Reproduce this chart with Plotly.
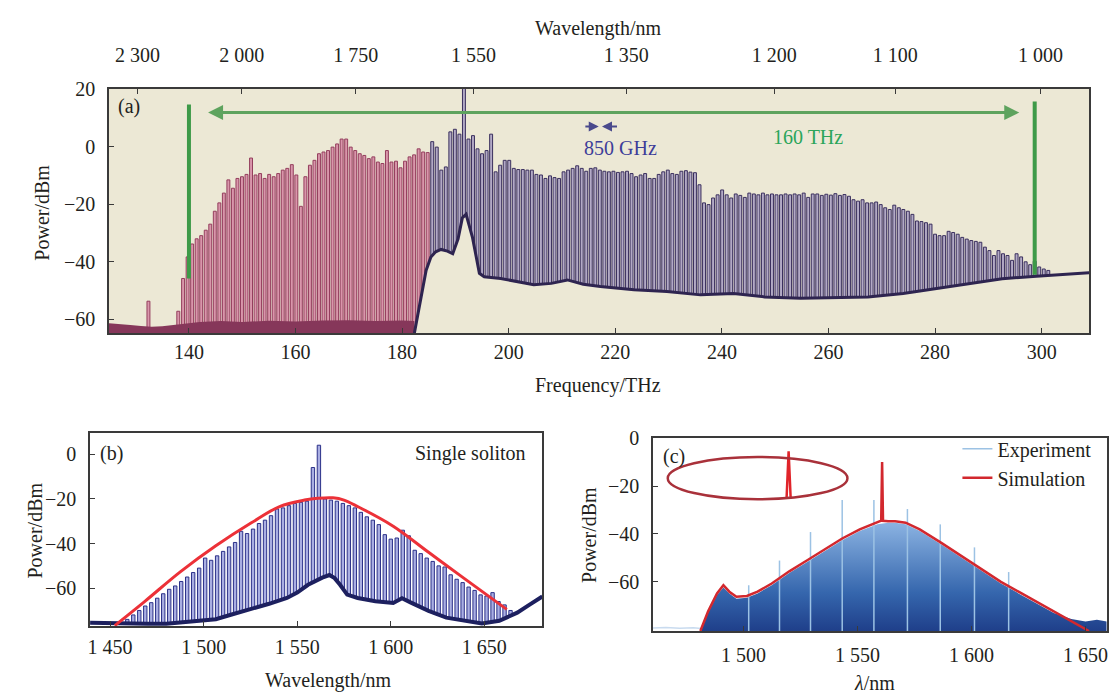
import numpy as np
import plotly.graph_objects as go

C_NM_THZ = 299792.458
FONT = "Liberation Serif"
INK = "#231f20"
FRAME = "#3a3a3a"

# ---------------- Panel (a) ----------------
A_X_RANGE = [125.0, 308.9]
A_Y_RANGE = [-64.8, 20.1]
A_X_TICKS = [140, 160, 180, 200, 220, 240, 260, 280, 300]
A_Y_TICKS = [-60, -40, -20, 0, 20]
A_Y_TICKTEXT = ["−60", "−40", "−20", "0", "20"]
A_WL_TICKS_NM = [2300, 2000, 1750, 1550, 1350, 1200, 1100, 1000]
A_WL_TICKTEXT = ["2 300", "2 000", "1 750", "1 550", "1 350", "1 200", "1 100", "1 000"]

A_COMB_START_THZ = 138.9
A_COMB_SPACING_THZ = 0.85
A_RED_PEAKS_DBM = [
    -45.8, -38.3, -33.8, -32.0, -30.9, -29.0, -26.9, -22.4, -19.5, -16.1,
    -11.5, -14.4, -11.0, -10.4, -9.6, -3.9, -9.8, -9.3, -11.0, -9.6,
    -10.4, -9.3, -8.1, -7.5, -6.2, -9.8, -20.7, -10.4, -6.4, -4.7,
    -2.4, -1.8, -1.3, -0.1, 1.0, 2.7, 2.7, -0.1, -1.3, -2.4,
    -3.0, -4.1, -3.5, -5.3, -5.8, -1.3, -5.3, -5.0, -7.3, -5.0,
    -3.5, -2.8, -0.7, -1.8, -2.0]
A_PURPLE_PEAKS_DBM = [
    1.8, -0.1, -8.1, -7.0, 5.2, 6.1, 4.4, 20.5,
    2.7, 3.9, -0.7, -2.4, -1.3, 4.4, -8.7, -6.4, -4.7, -4.7,
    -7.5, -7.9, -7.9, -8.1, -8.1, -9.6, -9.8, -11.0, -10.1, -10.7,
    -11.0, -8.7, -8.1, -7.5, -6.6, -7.5, -8.5, -7.5, -7.3, -8.1,
    -8.5, -8.7, -8.5, -8.9, -8.7, -8.5, -9.3, -10.4, -9.8, -9.3,
    -11.0, -11.0, -9.6, -8.7, -8.1, -9.3, -9.6, -8.5, -8.3, -8.8,
    -9.0, -13.2,
    -19.5, -20.1, -17.8, -16.7, -15.0, -16.7, -17.8, -16.4, -16.9, -17.6,
    -16.1, -16.4, -16.7, -16.1, -16.7, -16.4, -16.7, -16.7, -16.4, -16.7,
    -16.4, -16.7, -16.1, -17.6, -16.4, -16.4, -16.9, -16.5, -16.8, -16.3,
    -16.9, -16.6, -17.2, -18.4, -18.9, -18.4, -19.5, -19.5, -19.2, -20.1,
    -21.2, -21.8, -20.3, -21.2, -21.8, -22.4, -23.5, -25.8, -26.0, -26.4,
    -26.9, -30.4, -30.9, -30.9, -29.4, -29.8, -30.4, -31.5, -32.1, -32.6,
    -32.9, -33.2, -34.9, -36.1, -37.8, -36.1, -37.2, -37.8, -39.5, -37.2,
    -38.3, -40.0, -41.0, -39.8, -41.8, -42.5, -43.0]
A_STRAY_THZ = [132.4, 138.0]
A_STRAY_DBM = [-53.7, -57.2]
A_RED_FLOOR_THZ = [125.0, 127.0, 129.0, 131.0, 133.0, 135.0, 137.0, 139.0, 142.0,
                   146.0, 150.0, 155.0, 160.0, 165.0, 170.0, 175.0, 180.0, 182.3]
A_RED_FLOOR_DBM = [-61.4, -61.8, -62.0, -62.3, -62.6, -62.4, -62.0, -61.4, -60.9,
                   -60.6, -60.9, -60.5, -60.8, -60.4, -60.3, -60.6, -60.4, -60.6]
A_PURPLE_FLOOR_THZ = [182.3, 183.0, 183.6, 184.5, 185.4, 186.3, 187.3, 188.5, 189.5,
                      190.5, 191.3, 192.0, 193.2, 194.5, 195.4, 198.5, 204.7, 208.0,
                      211.0, 214.0, 217.2, 223.5, 229.7, 236.0, 242.2, 248.0, 254.8,
                      261.0, 267.4, 274.0, 280.0, 286.3, 292.6, 299.0, 305.2, 308.9]
A_PURPLE_FLOOR_DBM = [-64.8, -58.0, -50.9, -43.0, -38.3, -36.5, -35.7, -36.3, -37.2,
                      -32.0, -24.7, -23.5, -31.5, -44.0, -45.2, -45.8, -48.0, -47.5,
                      -46.3, -47.8, -48.6, -49.7, -50.3, -51.5, -51.0, -52.2, -52.7,
                      -52.5, -52.2, -51.0, -49.3, -47.6, -45.9, -45.0, -44.2, -43.8]
A_SPAN_MARK_THZ = [140.0, 298.7]
A_SPAN_MARK_LOW = [-45.8, -44.5]
A_SPAN_MARK_HIGH = [14.7, 15.8]
A_SPAN_ARROW_THZ = [143.3, 295.8]
A_SPAN_ARROW_DBM = 11.9
A_FSR_ARROW_THZ = [214.1, 216.9, 217.5, 220.6]
A_FSR_ARROW_DBM = 7.1

# ---------------- Panel (b) ----------------
B_X_RANGE = [1439.3, 1681.0]
B_Y_RANGE = [-77.0, 9.5]
B_X_TICKS = [1450, 1500, 1550, 1600, 1650]
B_X_TICKTEXT = ["1 450", "1 500", "1 550", "1 600", "1 650"]
B_Y_TICKS = [-60, -40, -20, 0]
B_Y_TICKTEXT = ["−60", "−40", "−20", "0"]
B_COMB_START_NM = 1456.0
B_COMB_SPACING_NM = 3.2
B_COMB_PEAKS_DBM = [
    -76.0, -74.0, -72.0, -70.0, -68.0, -66.5, -64.5, -62.5, -60.5, -59.0,
    -57.0, -55.0, -53.0, -51.0, -46.5, -47.5, -45.5, -43.5, -41.5, -39.5,
    -34.5, -35.5, -33.5, -31.0, -29.5, -27.5, -24.5, -24.0, -23.0, -22.0,
    -21.5, -21.0, -5.9, 4.1, -20.0, -20.5, -21.0, -22.0, -23.0, -24.0,
    -26.0, -28.0, -29.5, -31.5, -36.0, -38.0, -37.5, -34.0, -36.5, -43.0,
    -44.5, -46.5, -48.0, -50.0, -50.5, -54.0, -56.0, -57.5, -59.5, -61.0,
    -63.0, -63.5, -62.0, -66.0, -67.5, -70.0]
B_FLOOR_NM = [1439.3, 1450.0, 1460.0, 1470.0, 1480.0, 1487.5, 1495.0, 1506.5, 1515.0,
              1525.5, 1535.0, 1544.5, 1550.0, 1555.8, 1560.0, 1563.4, 1567.2, 1570.0,
              1572.9, 1576.7, 1582.3, 1591.8, 1601.3, 1606.0, 1610.8, 1620.2, 1629.7,
              1639.2, 1648.7, 1658.0, 1667.6, 1674.0, 1681.0]
B_FLOOR_DBM = [-75.5, -75.8, -75.8, -76.0, -76.0, -75.4, -74.8, -73.9, -71.8,
               -69.5, -67.0, -64.4, -62.0, -58.5, -56.5, -55.3, -54.1, -55.5,
               -58.5, -62.9, -64.4, -65.9, -66.6, -64.5, -66.5, -70.2, -73.2,
               -74.6, -75.8, -74.6, -71.0, -67.5, -63.7]
B_ENV_NM = [1452.5, 1468.6, 1487.5, 1506.5, 1525.5, 1540.6, 1553.9, 1561.0, 1569.1,
            1575.0, 1582.3, 1601.3, 1620.2, 1639.2, 1662.0]
B_ENV_DBM = [-76.8, -65.9, -52.7, -41.0, -30.7, -23.4, -20.5, -19.7, -19.5,
             -20.5, -23.4, -32.2, -43.9, -55.6, -69.5]

# ---------------- Panel (c) ----------------
C_X_RANGE = [1460.3, 1659.3]
C_Y_RANGE = [-80.5, 0.0]
C_X_TICKS = [1500, 1550, 1600, 1650]
C_X_TICKTEXT = ["1 500", "1 550", "1 600", "1 650"]
C_Y_TICKS = [-60, -40, -20, 0]
C_Y_TICKTEXT = ["−60", "−40", "−20", "0"]
C_SIM_NM = [1481.1, 1484.5, 1488.4, 1491.2, 1493.8, 1496.9, 1501.5, 1506.2, 1512.4,
            1520.1, 1527.8, 1535.6, 1543.3, 1551.0, 1558.8, 1560.4, 1560.8, 1561.2,
            1563.4, 1566.5, 1571.1, 1577.3, 1586.6, 1597.4, 1605.1, 1612.9, 1620.6,
            1628.3, 1636.1, 1643.8, 1650.0, 1651.5]
C_SIM_DBM = [-80.5, -72.3, -64.8, -61.4, -64.1, -66.2, -65.9, -64.1, -60.7,
             -55.6, -51.1, -46.3, -41.9, -38.1, -35.3, -34.4, -10.0, -34.5,
             -34.7, -34.7, -35.3, -38.1, -43.6, -50.4, -55.2, -60.0, -64.1,
             -68.2, -72.3, -76.4, -79.9, -80.5]
C_EXP_NM = [1481.5, 1484.5, 1488.4, 1491.2, 1493.8, 1496.9,
            1501.5, 1506.2, 1512.4, 1520.1, 1527.8, 1535.6, 1543.3, 1551.0, 1558.8,
            1563.4, 1566.5, 1571.1, 1577.3, 1586.6, 1597.4, 1605.1, 1612.9, 1620.6,
            1628.3, 1636.1, 1643.8, 1650.0, 1655.0, 1659.3]
C_EXP_DBM = [-79.5, -73.0, -65.5, -62.3, -64.8, -67.0,
             -66.6, -64.8, -61.4, -56.3, -51.8, -47.0, -42.6, -38.8, -36.0,
             -35.3, -35.3, -36.0, -38.8, -44.3, -51.1, -55.9, -60.7, -64.8,
             -68.9, -73.0, -75.5, -76.5, -75.8, -76.5]
C_EXP_NOISE_NM = [1460.3, 1466.0, 1472.0, 1478.0, 1481.5]
C_EXP_NOISE_DBM = [-79.3, -79.0, -79.4, -79.1, -79.5]
C_EXP_LINE_NM = [1502.3, 1515.8, 1529.4, 1543.3, 1557.2, 1571.9, 1586.3, 1601.3, 1616.3]
C_EXP_LINE_DBM = [-61.4, -51.1, -39.2, -25.8, -25.8, -29.6, -36.0, -45.6, -55.9]
C_RING = dict(x0=1466.8, x1=1545.6, y0=-25.5, y1=-7.9)
C_RING_PULSE_NM = [1518.9, 1519.8, 1520.7]
C_RING_PULSE_DBM = [-25.2, -5.5, -25.2]

W, H = 1113, 693


def px_x(p):
    return p / W


def px_y(p):
    return 1 - p / H


fig = go.Figure()

# ---- (a) comb teeth ----
n_red = len(A_RED_PEAKS_DBM)
n_all = n_red + len(A_PURPLE_PEAKS_DBM)
comb_f = A_COMB_START_THZ + A_COMB_SPACING_THZ * np.arange(n_all)
a_base = A_Y_RANGE[0]
red_f = np.concatenate([A_STRAY_THZ, comb_f[:n_red]])
red_p = np.concatenate([A_STRAY_DBM, A_RED_PEAKS_DBM])
fig.add_trace(go.Bar(x=red_f, y=red_p - a_base, base=a_base, width=0.55,
                     marker=dict(color="#d996ab", line=dict(color="#943e5d", width=1)),
                     xaxis="x", yaxis="y", showlegend=False, hoverinfo="skip"))
fig.add_trace(go.Bar(x=comb_f[n_red:], y=np.array(A_PURPLE_PEAKS_DBM) - a_base, base=a_base,
                     width=0.55,
                     marker=dict(color="#b3aac6", line=dict(color="#3b305e", width=1)),
                     xaxis="x", yaxis="y", showlegend=False, hoverinfo="skip"))
# red noise floor (filled from the bottom)
fig.add_trace(go.Scatter(x=A_RED_FLOOR_THZ + [A_RED_FLOOR_THZ[-1], A_RED_FLOOR_THZ[0]],
                         y=A_RED_FLOOR_DBM + [a_base, a_base], fill="toself",
                         fillcolor="#86375a", line=dict(width=0), mode="lines",
                         xaxis="x", yaxis="y", showlegend=False, hoverinfo="skip"))
# purple noise floor: background below, line on top
fig.add_trace(go.Scatter(x=A_PURPLE_FLOOR_THZ + [A_PURPLE_FLOOR_THZ[-1], A_PURPLE_FLOOR_THZ[0]],
                         y=A_PURPLE_FLOOR_DBM + [a_base, a_base], fill="toself",
                         fillcolor="#ece8d5", line=dict(width=0), mode="lines",
                         xaxis="x", yaxis="y", showlegend=False, hoverinfo="skip"))
fig.add_trace(go.Scatter(x=A_PURPLE_FLOOR_THZ, y=A_PURPLE_FLOOR_DBM, mode="lines",
                         line=dict(color="#2e2450", width=3),
                         xaxis="x", yaxis="y", showlegend=False, hoverinfo="skip"))
# green span markers
gx, gy = [], []
for f, lo, hi in zip(A_SPAN_MARK_THZ, A_SPAN_MARK_LOW, A_SPAN_MARK_HIGH):
    gx += [f, f, None]
    gy += [lo, hi, None]
fig.add_trace(go.Scatter(x=gx, y=gy, mode="lines", line=dict(color="#3e9a48", width=4),
                         xaxis="x", yaxis="y", showlegend=False, hoverinfo="skip"))
# invisible trace for the top wavelength axis
wl_tickvals = [C_NM_THZ / w for w in A_WL_TICKS_NM]
fig.add_trace(go.Scatter(x=wl_tickvals, y=[a_base] * len(wl_tickvals), mode="markers",
                         marker=dict(opacity=0), xaxis="x4", yaxis="y",
                         showlegend=False, hoverinfo="skip"))

# ---- (b) ----
b_base = B_Y_RANGE[0]
b_comb = B_COMB_START_NM + B_COMB_SPACING_NM * np.arange(len(B_COMB_PEAKS_DBM))
fig.add_trace(go.Bar(x=b_comb, y=np.array(B_COMB_PEAKS_DBM) - b_base, base=b_base, width=1.8,
                     marker=dict(color="#a9aee2", line=dict(color="#2b3088", width=1)),
                     xaxis="x2", yaxis="y2", showlegend=False, hoverinfo="skip"))
fig.add_trace(go.Scatter(x=B_FLOOR_NM + [B_FLOOR_NM[-1], B_FLOOR_NM[0]],
                         y=B_FLOOR_DBM + [b_base, b_base], fill="toself",
                         fillcolor="white", line=dict(width=0), mode="lines",
                         xaxis="x2", yaxis="y2", showlegend=False, hoverinfo="skip"))
fig.add_trace(go.Scatter(x=B_FLOOR_NM, y=B_FLOOR_DBM, mode="lines",
                         line=dict(color="#1d205f", width=4),
                         xaxis="x2", yaxis="y2", showlegend=False, hoverinfo="skip"))
fig.add_trace(go.Scatter(x=B_ENV_NM, y=B_ENV_DBM, mode="lines", line_shape="spline",
                         line=dict(color="#ec3138", width=3),
                         xaxis="x2", yaxis="y2", showlegend=False, hoverinfo="skip"))

# ---- (c) ----
c_base = C_Y_RANGE[0]
fig.add_trace(go.Scatter(x=C_EXP_NOISE_NM, y=C_EXP_NOISE_DBM, mode="lines",
                         line=dict(color="#c9dbef", width=1.5),
                         xaxis="x3", yaxis="y3", showlegend=False, hoverinfo="skip"))
fig.add_trace(go.Scatter(x=C_EXP_NM + [C_EXP_NM[-1], C_EXP_NM[0]],
                         y=C_EXP_DBM + [c_base, c_base], fill="toself", mode="lines",
                         line=dict(width=0),
                         fillgradient=dict(type="vertical",
                                           colorscale=[[0, "#1f3f8a"], [0.35, "#3566ad"], [1, "#8bb3e2"]]),
                         xaxis="x3", yaxis="y3", showlegend=False, hoverinfo="skip"))
ex, ey = [], []
for w, p in zip(C_EXP_LINE_NM, C_EXP_LINE_DBM):
    ex += [w, w, None]
    ey += [c_base, p, None]
fig.add_trace(go.Scatter(x=ex, y=ey, mode="lines", line=dict(color="#9cc2e4", width=1.5),
                         name="Experiment", xaxis="x3", yaxis="y3", hoverinfo="skip"))
fig.add_trace(go.Scatter(x=C_SIM_NM, y=C_SIM_DBM, mode="lines",
                         line=dict(color="#d2282e", width=2.5),
                         name="Simulation", xaxis="x3", yaxis="y3", hoverinfo="skip"))
fig.add_trace(go.Scatter(x=C_RING_PULSE_NM, y=C_RING_PULSE_DBM, mode="lines",
                         line=dict(color="#e0242a", width=2.5),
                         xaxis="x3", yaxis="y3", showlegend=False, hoverinfo="skip"))

# ---- layout ----
tickfont = dict(family=FONT, size=20, color=INK)


def axis(rng, tickvals, ticktext, domain, anchor, standoff, **kw):
    d = dict(range=rng, domain=domain, anchor=anchor, tickvals=tickvals, ticktext=ticktext,
             ticks="inside", ticklen=5, tickwidth=1.2, tickcolor=FRAME,
             showline=True, linecolor=FRAME, linewidth=1.5, mirror=True,
             showgrid=False, zeroline=False, tickfont=tickfont,
             ticklabelstandoff=standoff, fixedrange=True)
    d.update(kw)
    return d


A_DOM_X = [px_x(107.3), px_x(1090.0)]
A_DOM_Y = [px_y(327.3), px_y(79.3)]
B_DOM_X = [px_x(88.3), px_x(541.8)]
B_DOM_Y = [px_y(625.0), px_y(429.0)]
C_DOM_X = [px_x(652.7), px_x(1107.7)]
C_DOM_Y = [px_y(630.0), px_y(434.0)]

fig.update_layout(
    width=W, height=H, margin=dict(l=0, r=0, t=0, b=0),
    paper_bgcolor="white", plot_bgcolor="white", barmode="overlay",
    font=dict(family=FONT, size=20, color=INK),
    xaxis=axis(A_X_RANGE, A_X_TICKS, [str(v) for v in A_X_TICKS], A_DOM_X, "y", 0),
    yaxis=axis(A_Y_RANGE, A_Y_TICKS, A_Y_TICKTEXT, A_DOM_Y, "x", 8),
    xaxis4=dict(range=A_X_RANGE, overlaying="x", side="top", anchor="y",
                tickvals=wl_tickvals, ticktext=A_WL_TICKTEXT, ticks="inside", ticklen=5,
                tickwidth=1.2, tickcolor=FRAME, showline=False, showgrid=False,
                zeroline=False, tickfont=tickfont, ticklabelstandoff=22, fixedrange=True),
    xaxis2=axis(B_X_RANGE, B_X_TICKS, B_X_TICKTEXT, B_DOM_X, "y2", 2),
    yaxis2=axis(B_Y_RANGE, B_Y_TICKS, B_Y_TICKTEXT, B_DOM_Y, "x2", 8),
    xaxis3=axis(C_X_RANGE, C_X_TICKS, C_X_TICKTEXT, C_DOM_X, "y3", 5),
    yaxis3=axis(C_Y_RANGE, C_Y_TICKS, C_Y_TICKTEXT, C_DOM_Y, "x3", 8),
    legend=dict(x=px_x(958), y=px_y(425), xanchor="left", yanchor="top",
                bgcolor="rgba(0,0,0,0)", borderwidth=0, itemwidth=30,
                font=dict(family=FONT, size=20, color=INK), tracegroupgap=0),
    showlegend=True,
)

# panel (a) beige background and ring inset of (c)
fig.add_shape(type="rect", xref="x domain", yref="y domain", x0=0, x1=1, y0=0, y1=1,
              fillcolor="#ece8d5", line=dict(width=0), layer="below")
fig.add_shape(type="circle", xref="x3", yref="y3", x0=C_RING["x0"], x1=C_RING["x1"],
              y0=C_RING["y0"], y1=C_RING["y1"], line=dict(color="#a9313a", width=2.5))

ann = []


def text(t, x, y, size=20, color=INK, xanchor="center", yanchor="middle", angle=0):
    ann.append(dict(text=t, x=x, y=y, xref="paper", yref="paper", showarrow=False,
                    xanchor=xanchor, yanchor=yanchor, textangle=angle,
                    font=dict(family=FONT, size=size, color=color)))


text("Wavelength/nm", px_x(598), px_y(18))
text("Frequency/THz", px_x(598), px_y(381))
text("Power/dBm", px_x(40), px_y(205), angle=-90)
text("(a)", px_x(114), px_y(97), xanchor="left")
text("160 THz", px_x(808), px_y(128), color="#2aa55a")
text("850 GHz", px_x(620), px_y(139), color="#3d3d99")
text("Power/dBm", px_x(33), px_y(528), angle=-90)
text("Wavelength/nm", px_x(327), px_y(680))
text("(b)", px_x(96), px_y(450), xanchor="left")
text("Single soliton", px_x(527), px_y(450), xanchor="right")
text("Power/dBm", px_x(588), px_y(532), angle=-90)
text("<i>λ</i>/nm", px_x(875), px_y(683))
text("(c)", px_x(661), px_y(453), xanchor="left")

# arrows in (a)
ann.append(dict(x=A_SPAN_ARROW_THZ[1], y=A_SPAN_ARROW_DBM, ax=A_SPAN_ARROW_THZ[0],
                ay=A_SPAN_ARROW_DBM, xref="x", yref="y", axref="x", ayref="y", text="",
                showarrow=True, arrowhead=2, arrowside="end+start", arrowsize=1,
                arrowwidth=3, arrowcolor="#5ea35e"))
ann.append(dict(x=A_FSR_ARROW_THZ[1], y=A_FSR_ARROW_DBM, ax=A_FSR_ARROW_THZ[0],
                ay=A_FSR_ARROW_DBM, xref="x", yref="y", axref="x", ayref="y", text="",
                showarrow=True, arrowhead=2, arrowsize=1, arrowwidth=2, arrowcolor="#4a4a8c"))
ann.append(dict(x=A_FSR_ARROW_THZ[2], y=A_FSR_ARROW_DBM, ax=A_FSR_ARROW_THZ[3],
                ay=A_FSR_ARROW_DBM, xref="x", yref="y", axref="x", ayref="y", text="",
                showarrow=True, arrowhead=2, arrowsize=1, arrowwidth=2, arrowcolor="#4a4a8c"))
fig.update_layout(annotations=ann)

fig.write_html("out.html")
